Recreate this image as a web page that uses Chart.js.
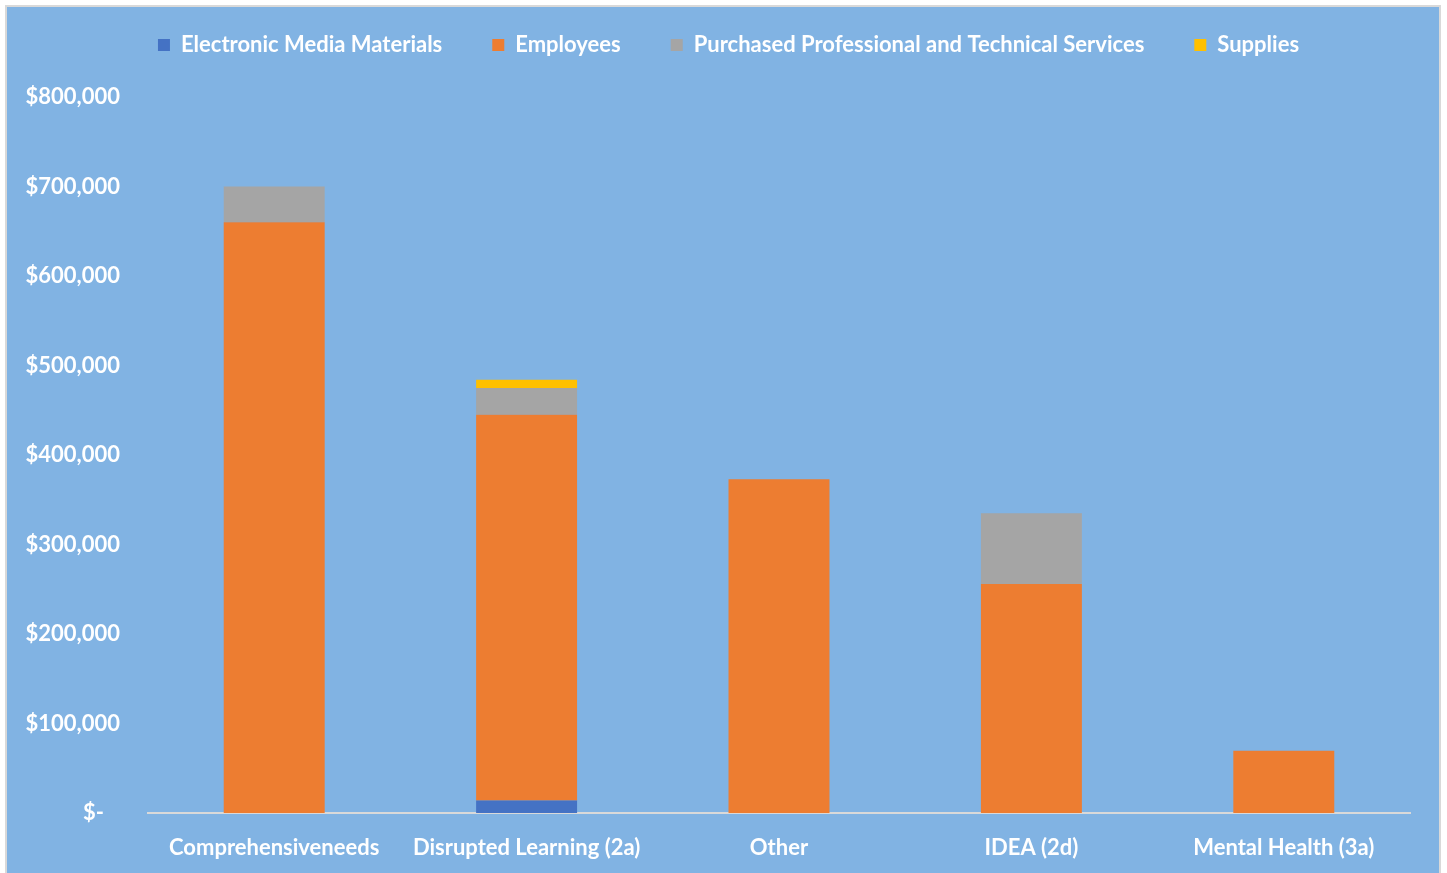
<!DOCTYPE html>
<html>
<head>
<meta charset="utf-8">
<script src="https://cdn.jsdelivr.net/npm/chart.js@4"></script>
<style>
  html, body { margin: 0; padding: 0; background: #ffffff; width: 1447px; height: 873px; overflow: hidden; }
  #wrap { position: absolute; left: 5px; top: 5px; width: 1432px; height: 870px; border: 2px solid #d9d9d9; border-bottom: none; background: #81b3e3; }
  #c { display: block; }
</style>
</head>
<body>
<div id="wrap"><canvas id="c" width="1432" height="866"></canvas></div>
<script>
const categories = ['Comprehensiveneeds', 'Disrupted Learning (2a)', 'Other', 'IDEA (2d)', 'Mental Health (3a)'];
const electronicMedia = [0, 14000, 0, 0, 0];
const employees = [660000, 431000, 373000, 256000, 69500];
const purchasedServices = [40000, 30000, 0, 79000, 0];
const supplies = [0, 9000, 0, 0, 0];
const yTicks = [0, 100000, 200000, 300000, 400000, 500000, 600000, 700000, 800000];

const FONT = 'Lato';
const fontBold = (size) => ({ family: FONT, size: size, weight: 'bold' });

const legendGap = {
  id: 'legendGap',
  beforeLayout(chart) {
    const lg = chart.legend;
    if (lg && !lg._gapWrapped) {
      const orig = lg.fit;
      lg.fit = function () { orig.call(this); this.height += 31; };
      lg._gapWrapped = true;
    }
  },
  afterLayout(chart) {
    const lg = chart.legend;
    if (lg) { lg.left += 40; }
  }
};

new Chart(document.getElementById('c'), {
  type: 'bar',
  data: {
    labels: categories,
    datasets: [
      { label: 'Electronic Media Materials', data: electronicMedia, backgroundColor: '#4472c4' },
      { label: 'Employees', data: employees, backgroundColor: '#ed7d31' },
      { label: 'Purchased Professional and Technical Services', data: purchasedServices, backgroundColor: '#a5a5a5' },
      { label: 'Supplies', data: supplies, backgroundColor: '#ffc000' }
    ]
  },
  plugins: [legendGap],
  options: {
    responsive: false,
    animation: false,
    devicePixelRatio: 1,
    layout: { padding: { top: -23, right: 29, left: 0, bottom: 0 } },
    datasets: { bar: { categoryPercentage: 1, barPercentage: 0.4, borderWidth: 0 } },
    plugins: {
      tooltip: { enabled: false },
      legend: {
        position: 'top',
        labels: {
          color: '#ffffff',
          font: fontBold(22),
          boxWidth: 12,
          boxHeight: 12,
          padding: 50
        }
      }
    },
    scales: {
      x: {
        stacked: true,
        grid: { display: false, drawTicks: false },
        border: { display: true, color: '#d9d9d9', width: 2 },
        ticks: { color: '#ffffff', font: fontBold(22), padding: 22, maxRotation: 0, autoSkip: false },
        afterFit: (s) => { s.height = 60; }
      },
      y: {
        stacked: true,
        min: 0,
        max: 800000,
        afterBuildTicks: (s) => { s.ticks = yTicks.map(v => ({ value: v })); },
        grid: { display: false, drawTicks: false },
        border: { display: false },
        ticks: {
          color: '#ffffff',
          font: fontBold(22),
          padding: 28,
          callback: (v) => v === 0 ? '$-   ' : '$' + v.toLocaleString('en-US')
        },
        afterFit: (s) => { s.width = 141; }
      }
    }
  }
});
</script>
</body>
</html>
